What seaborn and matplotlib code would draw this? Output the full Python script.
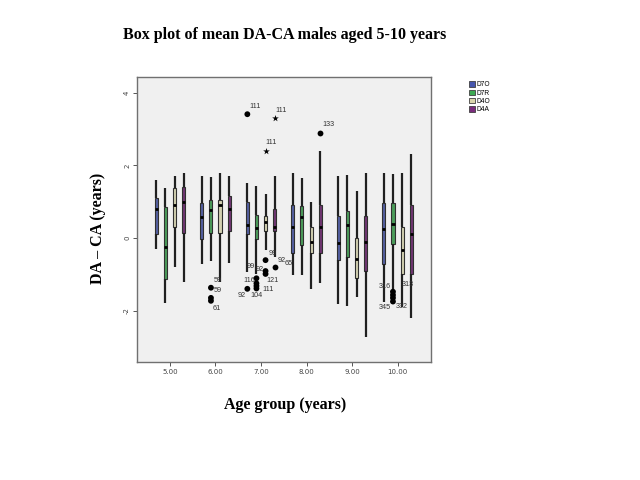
import matplotlib
matplotlib.use("Agg")
import matplotlib.pyplot as plt
from matplotlib.patches import Patch
import seaborn as sns
import pandas as pd

ages = ["5.00", "6.00", "7.00", "8.00", "9.00", "10.00"]
series = ["D7O", "D7R", "D4O", "D4A"]
colors = ["#4656AE", "#3DAA52", "#DAD6AC", "#7A2C7C"]

# five-number summaries (whisker ends, quartiles, median)
w_low = {"D7O": [-0.31, -0.72, -0.95, -1.02, -1.82, -1.75],
         "D7R": [-1.80, -0.62, -1.00, -1.02, -1.87, -1.40],
         "D4O": [-0.81, -1.22, -0.33, -1.41, -1.63, -1.89],
         "D4A": [-1.22, -0.69, -0.51, -1.23, -2.72, -2.21]}
q1 = {"D7O": [0.11, -0.02, 0.11, -0.40, -0.61, -0.72],
      "D7R": [-1.14, 0.15, -0.04, -0.19, -0.51, -0.17],
      "D4O": [0.29, 0.15, 0.20, -0.40, -1.11, -0.99],
      "D4A": [0.15, 0.20, 0.20, -0.40, -0.90, -0.99]}
med = {"D7O": [0.80, 0.59, 0.36, 0.31, -0.15, 0.24],
       "D7R": [-0.24, 0.77, 0.27, 0.57, 0.36, 0.39],
       "D4O": [0.90, 0.91, 0.45, -0.10, -0.59, -0.33],
       "D4A": [1.00, 0.79, 0.31, 0.29, -0.10, 0.10]}
q3 = {"D7O": [1.09, 0.96, 1.00, 0.91, 0.61, 0.96],
      "D7R": [0.85, 1.05, 0.63, 0.88, 0.73, 0.96],
      "D4O": [1.39, 1.05, 0.61, 0.29, -0.01, 0.29],
      "D4A": [1.40, 1.16, 0.79, 0.91, 0.61, 0.91]}
w_high = {"D7O": [1.60, 1.71, 1.51, 1.80, 1.71, 1.80],
          "D7R": [1.37, 1.67, 1.43, 1.64, 1.74, 1.76],
          "D4O": [1.71, 1.80, 1.21, 1.00, 1.30, 1.80],
          "D4A": [1.80, 1.71, 1.71, 2.41, 1.80, 2.31]}

# outliers
out_age = ["6.00", "6.00", "6.00", "7.00", "7.00", "7.00", "7.00", "7.00", "7.00",
           "7.00", "7.00", "7.00", "7.00", "7.00", "7.00", "8.00",
           "10.00", "10.00", "10.00", "10.00"]
out_series = ["D7R", "D7R", "D7R", "D7O", "D7O", "D7R", "D7R", "D7R", "D7R",
              "D4O", "D4O", "D4O", "D4O", "D4A", "D4A", "D4A",
              "D7R", "D7R", "D7R", "D7R"]
out_value = [-1.37, -1.65, -1.73, 3.41, -1.40, -1.11, -1.25, -1.32, -1.39,
             2.41, -0.61, -0.91, -0.99, 3.30, -0.81, 2.90,
             -1.48, -1.57, -1.65, -1.75]
out_extreme = [False, False, False, False, False, False, False, False, False,
               True, False, False, False, True, False, False,
               False, False, False, False]

# case labels: text, index of the outlier it belongs to
lab_text = ["59", "59", "61", "111", "92", "116", "99", "92", "104", "111", "121",
            "99", "92", "65", "111", "111", "133", "316", "313", "345", "332"]
lab_ref = [0, 0, 2, 3, 4, 5, 5, 12, 8, 7, 12, 10, 14, 14, 9, 13, 15, 16, 16, 19, 19]
lab_off = [(7, -7), (7, 3), (6, 8), (8, -8), (-6, 7), (-7, 2), (-6, -12), (-6, -4),
           (0, 7), (12, 4), (7, 7), (7, -7), (7, -7), (14, -4), (6, -8), (6, -8),
           (8, -8), (-8, -5), (15, -7), (-8, 6), (9, 5)]

rows = []
for s in series:
    for i, a in enumerate(ages):
        for stat in (w_low, q1, med, q3, w_high):
            rows.append({"age": a, "series": s, "val": stat[s][i]})
df = pd.DataFrame(rows)
dfo = pd.DataFrame({"age": out_age, "series": out_series, "val": out_value,
                    "ext": out_extreme})

fig = plt.figure(figsize=(6.4, 4.8), dpi=100)
ax = fig.add_axes([137 / 640, 1 - 362 / 480, (431 - 137) / 640, (362 - 77) / 480])
ax.set_facecolor("#F0F0F0")
pal = dict(zip(series, colors))

sns.boxplot(data=df, x="age", y="val", hue="series", order=ages, hue_order=series,
            palette=pal, whis=(0, 100), width=0.8, gap=0.66, showcaps=False,
            showfliers=False, linecolor="#303030", linewidth=0.8,
            medianprops={"color": "black", "linewidth": 2.0},
            whiskerprops={"color": "#202020", "linewidth": 1.6},
            legend=False, ax=ax)

black = {s: "black" for s in series}
sns.stripplot(data=dfo[~dfo["ext"]], x="age", y="val", hue="series", order=ages,
              hue_order=series, palette=black, dodge=True, jitter=False,
              size=4.2, marker="o", legend=False, ax=ax)
sns.stripplot(data=dfo[dfo["ext"]], x="age", y="val", hue="series", order=ages,
              hue_order=series, palette=black, dodge=True, jitter=False,
              size=5, marker="*", linewidth=0, legend=False, ax=ax)

offs = {s: -0.3 + 0.2 * k for k, s in enumerate(series)}
for t, r, (dx, dy) in zip(lab_text, lab_ref, lab_off):
    xp = ages.index(out_age[r]) + offs[out_series[r]]
    ax.annotate(t, xy=(xp, out_value[r]), xytext=(dx * 0.72, -dy * 0.72),
                textcoords="offset points", ha="center", va="center",
                fontsize=5.2, color="#333333", family="Liberation Sans")

ax.set_xlim(-0.725, 5.736)
ax.set_ylim(-3.416, 4.435)
ax.set_yticks([-2, 0, 2, 4])
ax.set_yticklabels(["-2", "0", "2", "4"], rotation=90, va="center")
ax.tick_params(axis="both", labelsize=5, colors="#555555", length=3, width=0.7,
               labelcolor="#444444", pad=2)
for sp in ax.spines.values():
    sp.set_color("#707070")
    sp.set_linewidth(1.0)
ax.set_xlabel("")
ax.set_ylabel("")

serif = "Liberation Serif"
fig.text(285 / 640, 1 - 35 / 480, "Box plot of mean DA-CA males aged 5-10 years",
         ha="center", va="center", fontsize=11.5, fontweight="bold", family=serif)
fig.text(285 / 640, 1 - 405 / 480, "Age group (years)", ha="center", va="center",
         fontsize=11.5, fontweight="bold", family=serif)
fig.text(98 / 640, 1 - 228 / 480, "DA \u2013 CA (years)", ha="center", va="center",
         rotation=90, fontsize=11.5, fontweight="bold", family=serif)

handles = [Patch(facecolor=c, edgecolor="#404040", linewidth=0.6) for c in colors]
fig.legend(handles, series, loc="upper left", bbox_to_anchor=(466 / 640, 1 - 78 / 480),
           frameon=False, handlelength=0.8, handleheight=0.8,
           labelspacing=0.2, handletextpad=0.3, borderpad=0,
           prop={"family": "Liberation Sans", "size": 4.8})

fig.savefig("out.png", dpi=100, facecolor="white")
